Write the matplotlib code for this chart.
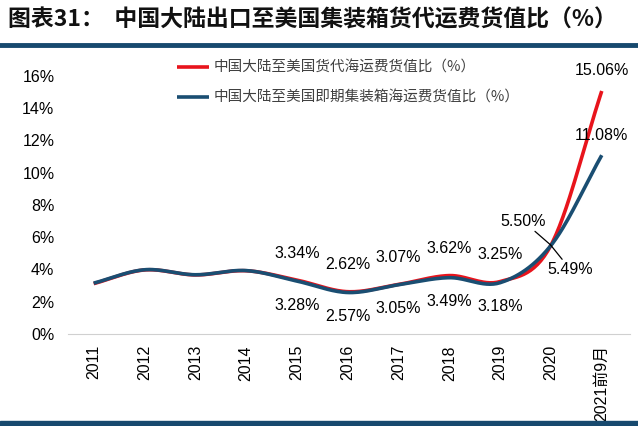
import numpy as np
import matplotlib
matplotlib.use("Agg")
import matplotlib.pyplot as plt

plt.rcParams['font.family'] = ['Noto Sans CJK SC', 'DejaVu Sans']

categories = ['2011', '2012', '2013', '2014', '2015', '2016', '2017', '2018', '2019', '2020', '2021前9月']
forwarder = [3.12, 3.97, 3.66, 3.92, 3.34, 2.62, 3.07, 3.62, 3.25, 5.50, 15.06]
spot = [3.15, 3.98, 3.67, 3.93, 3.28, 2.57, 3.05, 3.49, 3.18, 5.49, 11.08]
name_fwd = '中国大陆至美国货代海运费货值比（%）'
name_spot = '中国大陆至美国即期集装箱海运费货值比（%）'
title = '图表31：  中国大陆出口至美国集装箱货代运费货值比（%）'
yticks = [0, 2, 4, 6, 8, 10, 12, 14, 16]

RED = '#e8141c'
BLUE = '#1a4e72'


def smooth(x, y, n=30):
    x = np.asarray(x, float); y = np.asarray(y, float)
    px = np.concatenate([[2 * x[0] - x[1]], x, [2 * x[-1] - x[-2]]])
    py = np.concatenate([[2 * y[0] - y[1]], y, [2 * y[-1] - y[-2]]])
    xs, ys = [], []
    for i in range(1, len(px) - 2):
        t = np.linspace(0, 1, n, endpoint=False)
        p0, p1, p2, p3 = py[i - 1], py[i], py[i + 1], py[i + 2]
        q0, q1, q2, q3 = px[i - 1], px[i], px[i + 1], px[i + 2]
        f = lambda a0, a1, a2, a3: 0.5 * ((2 * a1) + (-a0 + a2) * t + (2 * a0 - 5 * a1 + 4 * a2 - a3) * t ** 2 + (-a0 + 3 * a1 - 3 * a2 + a3) * t ** 3)
        xs.append(f(q0, q1, q2, q3)); ys.append(f(p0, p1, p2, p3))
    xs.append([x[-1]]); ys.append([y[-1]])
    return np.concatenate(xs), np.concatenate(ys)


fig = plt.figure(figsize=(6.38, 4.26), dpi=100)
ax = fig.add_axes([0.107, 0.216, 0.88, 0.606])
x = np.arange(len(categories))

sx, sy = smooth(x, forwarder)
ax.plot(sx, sy, color=RED, lw=2.6, label=name_fwd, solid_capstyle='butt')
sx2, sy2 = smooth(x, spot)
ax.plot(sx2, sy2, color=BLUE, lw=2.6, label=name_spot, solid_capstyle='butt')

ax.set_xlim(-0.5, len(categories) - 0.45)
ax.set_ylim(0, 16)
ax.set_yticks(yticks)
ax.set_yticklabels([f'{v}%' for v in yticks], fontsize=11.5, family=['Liberation Sans', 'DejaVu Sans'])
ax.set_xticks(x)
ax.set_xticklabels(categories, rotation=90, fontsize=11.5, family=['Liberation Sans', 'Noto Sans CJK SC'])
ax.tick_params(length=0, pad=8)
ax.tick_params(axis='y', pad=10)
for s in ['top', 'right', 'left']:
    ax.spines[s].set_visible(False)
ax.spines['bottom'].set_color('#d0d0d0')

lf = ['Liberation Sans', 'DejaVu Sans']
fs = 11.5
for i in range(4, 9):
    ax.annotate(f'{forwarder[i]:.2f}%', (x[i], forwarder[i]), xytext=(0, 14), textcoords='offset points',
                ha='center', va='bottom', fontsize=fs, family=lf)
    ax.annotate(f'{spot[i]:.2f}%', (x[i], spot[i]), xytext=(0, -12), textcoords='offset points',
                ha='center', va='top', fontsize=fs, family=lf)
# 2020 with leader lines
ax.annotate(f'{forwarder[9]:.2f}%', (x[9], forwarder[9]), xytext=(-20, 12), textcoords='offset points',
            ha='center', va='bottom', fontsize=fs, family=lf,
            arrowprops=dict(arrowstyle='-', color='black', lw=0.9, shrinkA=0, shrinkB=0))
ax.annotate(f'{spot[9]:.2f}%', (x[9], spot[9]), xytext=(14, -12), textcoords='offset points',
            ha='center', va='top', fontsize=fs, family=lf,
            arrowprops=dict(arrowstyle='-', color='black', lw=0.9, shrinkA=0, shrinkB=0))
ax.annotate(f'{forwarder[10]:.2f}%', (x[10], forwarder[10]), xytext=(0, 9), textcoords='offset points',
            ha='center', va='bottom', fontsize=fs, family=lf)
ax.annotate(f'{spot[10]:.2f}%', (x[10], spot[10]), xytext=(0, 9), textcoords='offset points',
            ha='center', va='bottom', fontsize=fs, family=lf)

leg = ax.legend(loc='upper left', bbox_to_anchor=(0.17, 1.11), frameon=False, fontsize=10.5,
                handlelength=2.2, handletextpad=0.3, labelspacing=1.1)
for t in leg.get_texts():
    t.set_color('#404040')

fig.text(0.012, 0.952, title, fontsize=16.5, fontweight='bold', va='center', ha='left', color='#111111')
fig.add_artist(plt.Line2D([0, 1], [0.895, 0.895], color='#17496e', lw=3.5, transform=fig.transFigure))
fig.add_artist(plt.Rectangle((0, 0), 1, 0.012, color='#17496e', transform=fig.transFigure))

fig.savefig('out.png', dpi=100)
